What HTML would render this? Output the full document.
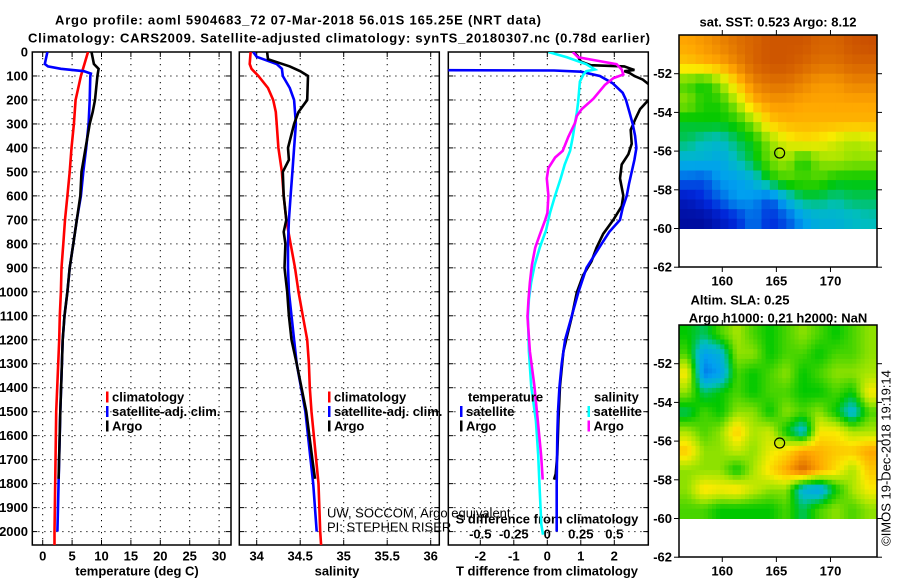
<!DOCTYPE html>
<html><head><meta charset="utf-8"><style>
body{margin:0;background:#fff;width:900px;height:580px;overflow:hidden}
svg{display:block;font-family:"Liberation Sans",sans-serif}
.b{font-weight:bold;font-size:13px}
.n{font-weight:normal;font-size:13px}
</style></head><body>
<svg id="c" width="900" height="580" xmlns="http://www.w3.org/2000/svg"></svg>
<script>
// ---------- data ----------
const depthTicks=[0,100,200,300,400,500,600,700,800,900,1000,1100,1200,1300,1400,1500,1600,1700,1800,1900,2000];
const tempTicks=[0,5,10,15,20,25,30];
const salTicks=[34,34.5,35,35.5,36];
const tdTicks=[-2,-1,0,1,2];
const sdTicks=[-0.5,-0.25,0,0.25,0.5];
// panel 1 temperature
const climTDepth=[0,100,200,300,400,500,600,700,800,900,1000,1100,1200,1500,2000,2056];
const climT=[7.7,6.5,5.6,5.3,4.9,4.6,4.2,3.8,3.5,3.2,3.1,2.9,2.8,2.3,2.0,2.0];
const satTDepth=[0,50,60,70,80,90,100,200,300,400,500,600,700,800,900,1000,1100,1200,1500,2000];
const satT=[0.8,0.35,0.9,3.1,7.0,8.2,8.1,8.0,7.8,7.4,6.9,6.5,5.8,5.2,4.6,4.2,3.7,3.4,3.0,2.5];
const argoTDepth=[0,50,70,100,200,250,300,400,500,600,700,800,900,1000,1100,1200,1500,1780];
const argoT=[8.3,8.7,9.5,9.3,8.9,8.5,8.0,7.3,6.6,6.4,5.8,5.2,4.6,4.2,3.7,3.4,3.0,2.7];
// panel 2 salinity
const climSDepth=[0,50,70,100,150,200,250,300,400,500,600,700,800,900,1000,1100,1200,1300,1400,1500,1800,2000,2056];
const climS=[33.93,33.92,33.94,34.02,34.13,34.19,34.22,34.23,34.25,34.29,34.31,34.34,34.39,34.44,34.48,34.53,34.58,34.60,34.61,34.63,34.71,34.73,34.74];
const satSDepth=[0,20,50,70,100,150,200,250,300,400,500,600,700,800,900,1000,1100,1200,1300,1500,1700,1800,2000];
const satS=[33.96,34.00,34.23,34.29,34.30,34.38,34.43,34.44,34.45,34.43,34.41,34.39,34.37,34.36,34.36,34.37,34.40,34.43,34.46,34.56,34.62,34.65,34.69];
const argoSDepth=[0,30,60,80,100,200,250,300,400,450,500,600,700,750,800,900,1000,1100,1200,1300,1500,1700,1780];
const argoS=[34.12,34.13,34.38,34.50,34.59,34.58,34.48,34.43,34.36,34.37,34.30,34.31,34.34,34.31,34.33,34.32,34.35,34.37,34.40,34.46,34.57,34.64,34.67];
// panel 3 differences
const satTdDepth=[70,76,77,82,100,130,170,200,250,300,350,400,450,500,550,600,650,700,750,800,900,1000,1100,1200,1300,1400,1500,1600,1800,2000];
const satTd=[-3.3,-3.3,0.2,1.0,1.57,1.95,2.25,2.35,2.45,2.55,2.62,2.66,2.6,2.52,2.44,2.37,2.25,2.17,1.85,1.62,1.17,0.93,0.73,0.53,0.43,0.36,0.32,0.3,0.28,0.28];
const argoTdDepth=[0,15,40,55,60,70,75,80,87,100,115,137,195,238,282,325,383,426,469,527,599,643,700,758,816,873,931,1003,1104,1191,1249,1393,1537,1681,1760,1783];
const argoTd=[0.78,0.9,1.0,1.3,2.3,2.5,2.6,2.3,2.45,2.6,2.85,3.05,3.05,2.77,2.62,2.49,2.52,2.42,2.22,2.17,2.27,2.22,1.97,1.67,1.47,1.32,1.07,0.88,0.73,0.58,0.48,0.38,0.33,0.30,0.25,0.2];
const satSdDepth=[0,22,51,73,80,94,123,210,253,296,354,412,469,527,599,671,744,816,888,960,1032,1104,1249,1393,1537,1681,1826,1970,2013];
const satSd=[0.008,0.146,0.29,0.355,0.29,0.27,0.243,0.23,0.22,0.207,0.19,0.17,0.13,0.10,0.058,0.02,-0.01,-0.057,-0.094,-0.12,-0.137,-0.145,-0.137,-0.12,-0.085,-0.068,-0.057,-0.045,-0.032];
const argoSdDepth=[0,22,36,51,73,94,109,137,195,238,267,296,354,412,440,484,527,599,671,700,758,816,888,960,1032,1104,1249,1393,1537,1681,1783];
const argoSd=[0.19,0.23,0.37,0.517,0.555,0.567,0.493,0.43,0.343,0.257,0.22,0.207,0.157,0.115,0.058,0.008,-0.004,0.008,0.001,-0.016,-0.054,-0.09,-0.115,-0.13,-0.14,-0.148,-0.13,-0.096,-0.071,-0.046,-0.034];
// maps (rows north->south, -50..-60; cols 156..174.3)
const sstGrid=[
[0.8,0.82,0.85,0.88,0.9,0.92,0.92,0.92,0.9,0.9,0.92,0.93],
[0.75,0.78,0.8,0.85,0.9,0.92,0.92,0.9,0.88,0.88,0.9,0.9],
[0.55,0.5,0.6,0.75,0.85,0.88,0.88,0.85,0.82,0.82,0.85,0.85],
[0.6,0.52,0.52,0.62,0.78,0.82,0.82,0.8,0.8,0.8,0.8,0.8],
[0.48,0.5,0.5,0.52,0.6,0.75,0.78,0.78,0.78,0.78,0.78,0.78],
[0.45,0.4,0.38,0.45,0.5,0.6,0.68,0.72,0.7,0.66,0.62,0.65],
[0.35,0.35,0.32,0.4,0.48,0.58,0.62,0.5,0.6,0.62,0.6,0.6],
[0.22,0.2,0.3,0.3,0.35,0.5,0.55,0.55,0.55,0.5,0.5,0.5],
[0.1,0.15,0.22,0.3,0.28,0.2,0.35,0.45,0.45,0.42,0.45,0.45],
[0.05,0.05,0.1,0.15,0.25,0.15,0.2,0.3,0.35,0.35,0.38,0.4]];
const slaGrid=[
[0.5,0.45,0.55,0.62,0.55,0.5,0.55,0.6,0.55,0.5,0.55,0.6],
[0.55,0.3,0.35,0.6,0.6,0.5,0.55,0.55,0.5,0.55,0.55,0.6],
[0.7,0.25,0.3,0.55,0.5,0.55,0.6,0.5,0.55,0.6,0.6,0.62],
[0.6,0.45,0.5,0.55,0.5,0.55,0.55,0.5,0.5,0.55,0.5,0.7],
[0.45,0.55,0.5,0.6,0.6,0.5,0.6,0.55,0.6,0.5,0.35,0.55],
[0.62,0.55,0.6,0.75,0.62,0.65,0.5,0.35,0.7,0.7,0.62,0.62],
[0.75,0.6,0.6,0.65,0.6,0.68,0.72,0.8,0.78,0.75,0.75,0.8],
[0.6,0.6,0.6,0.5,0.62,0.72,0.8,0.9,0.8,0.72,0.62,0.75],
[0.6,0.72,0.7,0.72,0.65,0.6,0.6,0.35,0.3,0.5,0.62,0.7],
[0.55,0.55,0.5,0.5,0.5,0.5,0.55,0.45,0.55,0.6,0.55,0.6]];
const latTicks=[-52,-54,-56,-58,-60,-62];
const lonTicks=[160,165,170];
const argoLon=165.3, argoLat=-56.1;

// ---------- helpers ----------
const S=document.getElementById('c'),NS='http://www.w3.org/2000/svg';
function el(t,a,p){const e=document.createElementNS(NS,t);for(const k in a)e.setAttribute(k,a[k]);(p||S).appendChild(e);return e;}
function txt(x,y,s,cls,anchor,name){const e=el('text',{x:x,y:y,'class':cls,'text-anchor':anchor||'middle','dominant-baseline':'central'});e.textContent=s;


return e;}
const yD=d=>52+d*0.2398;
const P=[{x0:32.3,x1:231,f:t=>42.7+t*5.88},{x0:239.3,x1:439.3,f:s=>256.7+(s-34)*87},{x0:448.3,x1:648.3,f:v=>547.3+v*33.5}];
const Y0=52,Y1=545;
function line(pi,depths,vals,col,name,scale){
  const f=P[pi].f,sc=scale||1;
  const d=vals.map((v,i)=>(i?'L':'M')+f(v*sc).toFixed(1)+','+yD(depths[i]).toFixed(1)).join('');
  const e=el('path',{d:d,fill:'none',stroke:col,'stroke-width':2.6,'clip-path':'url(#cp'+pi+')'});
  
  
}
const defs=el('defs',{});
P.forEach((p,i)=>{const c=el('clipPath',{id:'cp'+i},defs);el('rect',{x:p.x0,y:Y0,width:p.x1-p.x0,height:Y1-Y0},c);});

// titles
let t=txt(298,20,'Argo profile: aoml 5904683_72 07-Mar-2018 56.01S 165.25E (NRT data)','b','middle','main-title');t.setAttribute('font-size','14');t.setAttribute('textLength','486');
t=txt(339,38,'Climatology: CARS2009. Satellite-adjusted climatology: synTS_20180307.nc (0.78d earlier)','b','middle','sub-title');t.setAttribute('font-size','14');t.setAttribute('textLength','622');

// panels
const xt=[tempTicks,salTicks,tdTicks];
P.forEach((p,pi)=>{
  const g=el('g',{});
  
  
  depthTicks.forEach(d=>{el('line',{x1:p.x0,x2:p.x1,y1:yD(d),y2:yD(d),stroke:'#000','stroke-width':1,'stroke-dasharray':'1.2,4.8'},g);
    el('line',{x1:p.x0,x2:p.x0+5,y1:yD(d),y2:yD(d),stroke:'#000'},g);el('line',{x1:p.x1-5,x2:p.x1,y1:yD(d),y2:yD(d),stroke:'#000'},g);});
  xt[pi].forEach(v=>{const x=p.f(v);el('line',{x1:x,x2:x,y1:Y0,y2:Y1,stroke:'#000','stroke-dasharray':'1.2,4.8'},g);
    el('line',{x1:x,x2:x,y1:Y1-5,y2:Y1,stroke:'#000'},g);el('line',{x1:x,x2:x,y1:Y0,y2:Y0+5,stroke:'#000'},g);
    txt(x,556,String(v),'b','middle','x-tick-label');});
  el('rect',{x:p.x0,y:Y0,width:p.x1-p.x0,height:Y1-Y0,fill:'none',stroke:'#000','stroke-width':1.5},g);
});
depthTicks.forEach(d=>txt(28,yD(d),String(d),'b','end','depth-tick-label'));
txt(137,571,'temperature (deg C)','b','middle','x-axis-title-temperature');
txt(337,571,'salinity','b','middle','x-axis-title-salinity');
txt(547,571,'T difference from climatology','b','middle','x-axis-title-t-diff');
sdTicks.forEach(v=>txt(P[2].f(v*4),534,String(v),'b','middle','s-diff-tick-label'));
txt(547,519,'S difference from climatology','b','middle','s-diff-axis-title');

// series
line(0,climTDepth,climT,'#f00','temp-climatology-line');
line(0,satTDepth,satT,'#00f','temp-satellite-line');
line(0,argoTDepth,argoT,'#000','temp-argo-line');
line(1,climSDepth,climS,'#f00','salinity-climatology-line');
line(1,satSDepth,satS,'#00f','salinity-satellite-line');
line(1,argoSDepth,argoS,'#000','salinity-argo-line');
line(2,argoTdDepth,argoTd,'#000','t-diff-argo-line');
line(2,satTdDepth,satTd,'#00f','t-diff-satellite-line');
line(2,satSdDepth,satSd,'#0ff','s-diff-satellite-line',4);
line(2,argoSdDepth,argoSd,'#f0f','s-diff-argo-line',4);

// legends
function leg(x,y,col,s,name){el('rect',{x:x,y:y-5.5,width:2.5,height:11,fill:col});return txt(x+6,y,s,'b','start',name);}
leg(106,397,'#f00','climatology','legend-climatology');leg(106,411.5,'#00f','satellite-adj. clim.','legend-satellite-adj');leg(106,426,'#000','Argo','legend-argo');
leg(328,397,'#f00','climatology','legend-climatology-2');leg(328,411.5,'#00f','satellite-adj. clim.','legend-satellite-adj-2');leg(328,426,'#000','Argo','legend-argo-2');
txt(468,397,'temperature','b','start','legend-temperature-heading');
leg(460,411.5,'#00f','satellite','legend-t-satellite');leg(460,426,'#000','Argo','legend-t-argo');
txt(594,397,'salinity','b','start','legend-salinity-heading');
leg(587.5,411.5,'#0ff','satellite','legend-s-satellite');leg(587.5,426,'#f0f','Argo','legend-s-argo');
t=txt(327,513,'UW, SOCCOM, Argo equivalent','n','start','credit-line-1');t.setAttribute('font-size','12.5');
t=txt(327,527,'PI: STEPHEN RISER','n','start','credit-line-2');t.setAttribute('font-size','12.5');

// maps
const stops=[[0,[0,0,130]],[0.15,[0,40,220]],[0.3,[0,160,240]],[0.4,[0,190,190]],[0.5,[0,200,0]],[0.62,[170,230,0]],[0.7,[250,235,0]],[0.8,[255,165,0]],[0.9,[215,100,0]],[1,[170,30,0]]];
function cmap(v){for(let i=1;i<stops.length;i++){if(v<=stops[i][0]){const a=stops[i-1],b=stops[i],f=(v-a[0])/(b[0]-a[0]);return 'rgb('+a[1].map((c,k)=>Math.round(c+(b[1][k]-c)*f)).join(',')+')';}}return 'rgb(170,30,0)';}
const MX0=679,MX1=877,lonX=l=>MX0+(l-156)*(MX1-MX0)/18.3;
function sample(grid,r,c){const R=grid.length,C=grid[0].length;r=Math.max(0,Math.min(R-1,r));c=Math.max(0,Math.min(C-1,c));
  const r0=Math.floor(r),c0=Math.floor(c),r1=Math.min(R-1,r0+1),c1=Math.min(C-1,c0+1),fr=r-r0,fc=c-c0;
  return grid[r0][c0]*(1-fr)*(1-fc)+grid[r0][c1]*(1-fr)*fc+grid[r1][c0]*fr*(1-fc)+grid[r1][c1]*fr*fc;}
function map(top,grid,name,sub){
  const latY=la=>top+(-50-la)*19.35;
  const g=el('g',{});
  
  
  const rows=grid.length,cols=grid[0].length,cw=(MX1-MX0)/cols/sub,ch=19.35/sub;
  for(let ri=0;ri<rows*sub;ri++)for(let ci=0;ci<cols*sub;ci++){
    const v=sub>1?sample(grid,(ri+0.5)/sub-0.5,(ci+0.5)/sub-0.5):grid[ri][ci];
    el('rect',{x:(MX0+ci*cw).toFixed(1),y:(top+ri*ch).toFixed(1),width:(cw+0.5).toFixed(1),height:(ch+0.5).toFixed(1),fill:cmap(v)},g);}
  el('rect',{x:MX0,y:top,width:MX1-MX0,height:232,fill:'none',stroke:'#000','stroke-width':1.5},g);
  latTicks.forEach(la=>{const y=latY(la);el('line',{x1:MX0-5,x2:MX0,y1:y,y2:y,stroke:'#000'},g);el('line',{x1:MX1,x2:MX1+5,y1:y,y2:y,stroke:'#000'},g);txt(MX0-7,y,String(la),'b','end','lat-tick-label');});
  lonTicks.forEach(lo=>{const x=lonX(lo);el('line',{x1:x,x2:x,y1:top+232,y2:top+237,stroke:'#000'},g);el('line',{x1:x,x2:x,y1:top-5,y2:top,stroke:'#000'},g);txt(x,top+246,String(lo),'b','middle','lon-tick-label');});
  const c=el('circle',{cx:lonX(argoLon),cy:latY(argoLat),r:5,fill:'none',stroke:'#000','stroke-width':1.2},g);
  
  
}
map(35,sstGrid,'sst-map',2);
map(325,slaGrid,'sla-map',4);
t=txt(778,22,'sat. SST: 0.523 Argo: 8.12','b','middle','sst-map-title');t.setAttribute('font-size','12');
t=txt(740,300,'Altim. SLA: 0.25','b','middle','sla-map-title');t.setAttribute('font-size','12');
t=txt(778,318,'Argo h1000: 0.21 h2000: NaN','b','middle','sla-map-subtitle');t.setAttribute('font-size','12');
t=txt(0,0,'©IMOS 19-Dec-2018 19:19:14','n','middle','imos-timestamp');t.setAttribute('font-size','13');t.setAttribute('transform','translate(886,458) rotate(-90)');
</script>
</body></html>
